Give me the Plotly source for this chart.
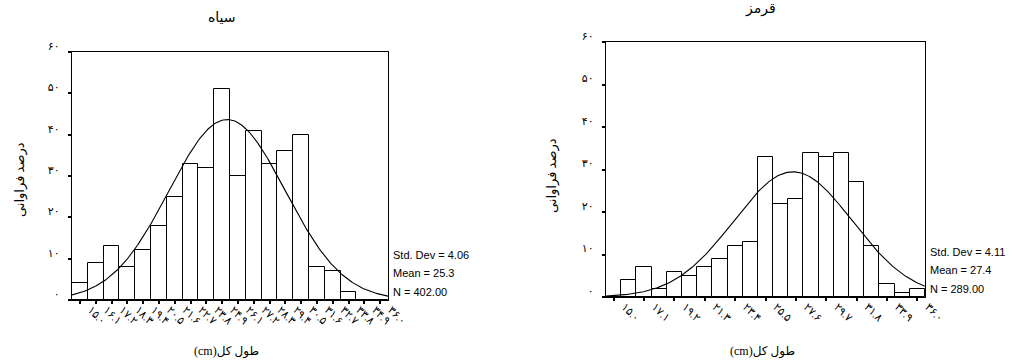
import numpy as np
import plotly.graph_objects as go

W, H = 1014, 364

# ---- data: سیاه (black) ----
black_counts = [4, 9, 13, 8, 12, 18, 25, 33, 32, 51, 30, 41, 33, 36, 40, 8, 7, 2, 0, 0]
black_ticktext = ["۱۵.۰", "۱۶.۱", "۱۷.۲", "۱۸.۳", "۱۹.۴", "۲۰.۵", "۲۱.۶", "۲۲.۷", "۲۳.۸", "۲۴.۹",
                  "۲۶.۱", "۲۷.۲", "۲۸.۳", "۲۹.۴", "۳۰.۵", "۳۱.۶", "۳۲.۷", "۳۳.۸", "۳۴.۹", "۳۶.۰"]
black_std, black_mean, black_n = 4.06, 25.3, 402

# ---- data: قرمز (red) ----
red_counts = [0, 4, 7, 2, 6, 5, 7, 9, 12, 13, 33, 22, 23, 34, 33, 34, 27, 12, 3, 1, 2]
red_ticktext = ["۱۵.۰", "۱۷.۱", "۱۹.۲", "۲۱.۳", "۲۳.۴", "۲۵.۵", "۲۷.۶", "۲۹.۷", "۳۱.۸", "۳۳.۹", "۳۶.۰"]
red_std, red_mean, red_n = 4.11, 27.4, 289

bin_first, bin_last = 15.0, 36.0
y_tickvals = [0, 10, 20, 30, 40, 50, 60]
y_ticktext = ["۰", "۱۰", "۲۰", "۳۰", "۴۰", "۵۰", "۶۰"]

panel_titles = ["سیاه", "قرمز"]
y_title = "درصد فراوانی"
x_title = "\u202bطول کل(cm)\u202c"

PERSIAN = "Liberation Serif, DejaVu Sans, serif"
LATIN = "Liberation Sans, Arial, sans-serif"


def px_x(p):
    return p / W


def px_y(p):
    return 1 - p / H


fig = go.Figure()


def add_panel(idx, counts, mean, std, n):
    centers = np.linspace(bin_first, bin_last, len(counts))
    width = centers[1] - centers[0]
    xa = "x" if idx == 1 else "x2"
    ya = "y" if idx == 1 else "y2"
    fig.add_trace(go.Bar(
        x=centers, y=counts, width=width, xaxis=xa, yaxis=ya,
        marker=dict(color="white", line=dict(color="black", width=1)),
        showlegend=False, hoverinfo="skip",
    ))
    lo, hi = centers[0] - width / 2, centers[-1] + width / 2
    xs = np.linspace(lo, hi, 300)
    ys = n * width / (std * np.sqrt(2 * np.pi)) * np.exp(-0.5 * ((xs - mean) / std) ** 2)
    fig.add_trace(go.Scatter(
        x=xs, y=ys, mode="lines", xaxis=xa, yaxis=ya,
        line=dict(color="black", width=1.1), showlegend=False, hoverinfo="skip",
    ))
    return centers, lo, hi


c1, lo1, hi1 = add_panel(1, black_counts, black_mean, black_std, black_n)
c2, lo2, hi2 = add_panel(2, red_counts, red_mean, red_std, red_n)

# plot-area rectangles in pixels: (left, top, right, bottom)
box1 = (72, 52, 388, 300)
box2 = (606, 42, 925, 297)

axis_common = dict(
    showline=True, linecolor="black", linewidth=1.4, mirror=True,
    showgrid=False, zeroline=False, ticks="outside", tickcolor="black",
    ticklen=3, tickwidth=2, automargin=False,
)
xtick_style = dict(tickangle=45, ticklabelshift=11, ticklabelstandoff=-5,
                   tickfont=dict(family=PERSIAN, size=11, color="black"))
ytick_style = dict(ticklabelshift=-6, ticklabelstandoff=6,
                   tickfont=dict(family=PERSIAN, size=11, color="black"))

fig.update_layout(
    width=W, height=H, margin=dict(l=0, r=0, t=0, b=0, pad=0, autoexpand=False),
    paper_bgcolor="white", plot_bgcolor="white", bargap=0,
    xaxis=dict(domain=[px_x(box1[0]), px_x(box1[2])], range=[lo1, hi1], anchor="y",
               tickvals=list(c1), ticktext=black_ticktext, **xtick_style, **axis_common),
    yaxis=dict(domain=[px_y(box1[3]), px_y(box1[1])], range=[0, 60], anchor="x",
               tickvals=y_tickvals, ticktext=y_ticktext, **ytick_style, **axis_common),
    xaxis2=dict(domain=[px_x(box2[0]), px_x(box2[2])], range=[lo2, hi2], anchor="y2",
                tickvals=list(c2[::2]), ticktext=red_ticktext, **xtick_style, **axis_common),
    yaxis2=dict(domain=[px_y(box2[3]), px_y(box2[1])], range=[0, 60], anchor="x2",
                tickvals=y_tickvals, ticktext=y_ticktext, **ytick_style, **axis_common),
)

annotations = []


def text(x, y, s, size, family, angle=0, xanchor="center"):
    annotations.append(dict(
        x=px_x(x), y=px_y(y), xref="paper", yref="paper", text=s, showarrow=False,
        textangle=angle, xanchor=xanchor, yanchor="middle",
        font=dict(family=family, size=size, color="black"),
    ))


# panel titles
text(222, 17, panel_titles[0], 14, PERSIAN)
text(760, 9, panel_titles[1], 14, PERSIAN)
# y titles
text(20, 180, y_title, 13, PERSIAN, angle=-90)
text(552, 176, y_title, 13, PERSIAN, angle=-90)
# x titles
text(226, 351, x_title, 12, PERSIAN)
text(762, 351, x_title, 12, PERSIAN)

# summary statistics beside each panel
for (x0, ys, std, mean, n) in [(391, (255, 273, 292), black_std, black_mean, black_n),
                               (928, (252, 270, 289), red_std, red_mean, red_n)]:
    lines = [f"Std. Dev = {std:.2f}", f"Mean = {mean:.1f}", f"N = {n:.2f}"]
    for yy, s in zip(ys, lines):
        text(x0, yy, s, 11, LATIN, xanchor="left")

fig.update_layout(annotations=annotations)

fig.write_html("out.html")
